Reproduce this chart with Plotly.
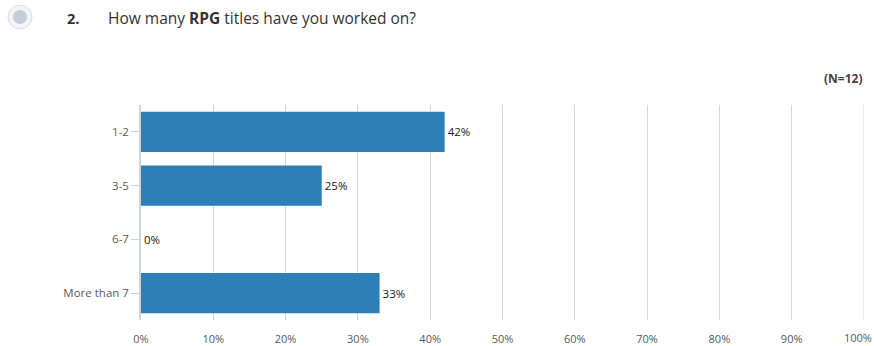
import plotly.graph_objects as go

# Survey responses: share of respondents per bucket (percent)
categories = ["1-2", "3-5", "6-7", "More than 7"]
shares = [42, 25, 0, 33]
x_ticks = [0, 10, 20, 30, 40, 50, 60, 70, 80, 90, 100]
x_tick_labels = [f"{t}%" for t in x_ticks]
question_no = "2."
question = "How many <b>RPG</b> titles have you worked on?"
sample_note = "(N=12)"

W, H = 874, 346
L, R, T, B = 141, 10, 105, 26
plot_w = W - L - R
plot_h = H - T - B


def px_x(px):
    return (px - L) / plot_w


def px_y(py):
    return (H - B - py) / plot_h


font_family = "'Open Sans', Lato, sans-serif"
grid_color = "#d6d6d6"
tick_color = "#5a5a5a"

fig = go.Figure(
    go.Bar(
        x=shares,
        y=categories,
        orientation="h",
        marker=dict(color="#2d7fb8", line=dict(width=0)),
        text=[f"{v}%" for v in shares],
        textposition="outside",
        cliponaxis=False,
        textfont=dict(family=font_family, size=11.5, color="#222222"),
        width=0.75,
        hoverinfo="skip",
    )
)

# The last tick label sits flush with the right page edge, so it is placed separately
axis_labels = x_tick_labels[:-1] + [""]

fig.update_layout(
    width=W,
    height=H,
    margin=dict(l=L, r=R, t=T, b=B, autoexpand=False),
    paper_bgcolor="white",
    plot_bgcolor="white",
    showlegend=False,
    font=dict(family=font_family, color="#555555", size=10),
    xaxis=dict(
        range=[0, 100],
        tickvals=x_ticks,
        ticktext=axis_labels,
        ticklabelstandoff=11,
        automargin=False,
        showgrid=True,
        gridcolor=grid_color,
        gridwidth=1,
        zeroline=False,
        showline=False,
        ticks="",
        tickfont=dict(size=11, color=tick_color),
        fixedrange=True,
    ),
    yaxis=dict(
        categoryorder="array",
        categoryarray=categories,
        autorange="reversed",
        automargin=False,
        showgrid=False,
        showline=True,
        linecolor="#c9d4e2",
        linewidth=1.5,
        ticks="outside",
        ticklen=8,
        tickcolor="#c9d4e2",
        tickfont=dict(size=11.5, color=tick_color),
        fixedrange=True,
    ),
)

# Gridline at the right end of the axis
fig.add_shape(
    type="line", xref="x", yref="paper", x0=x_ticks[-1], x1=x_ticks[-1], y0=0, y1=1,
    line=dict(color=grid_color, width=1), layer="below",
)
fig.add_annotation(
    text=x_tick_labels[-1], xref="paper", yref="paper",
    x=px_x(874), y=px_y(337), xanchor="right", yanchor="middle",
    showarrow=False, font=dict(family=font_family, size=11, color=tick_color),
)

# Question marker circle
fig.add_shape(
    type="circle", xref="paper", yref="paper",
    x0=px_x(8), x1=px_x(32), y0=px_y(29), y1=px_y(5),
    fillcolor="#f2f4f7", line=dict(color="#d9dee5", width=1),
)
fig.add_shape(
    type="circle", xref="paper", yref="paper",
    x0=px_x(13), x1=px_x(27), y0=px_y(24), y1=px_y(10),
    fillcolor="#c3ceda", line=dict(width=0),
)

fig.add_annotation(
    text=f"<b>{question_no}</b>", xref="paper", yref="paper",
    x=px_x(65), y=px_y(18), xanchor="left", yanchor="middle",
    showarrow=False, font=dict(family=font_family, size=14.5, color="#333333"),
)
fig.add_annotation(
    text=question, xref="paper", yref="paper",
    x=px_x(106), y=px_y(18), xanchor="left", yanchor="middle",
    showarrow=False, font=dict(family=font_family, size=15.5, color="#333333"),
)
fig.add_annotation(
    text=f"<b>{sample_note}</b>", xref="paper", yref="paper",
    x=px_x(864), y=px_y(78), xanchor="right", yanchor="middle",
    showarrow=False, font=dict(family=font_family, size=12, color="#444444"),
)

fig.write_html("out.html")
